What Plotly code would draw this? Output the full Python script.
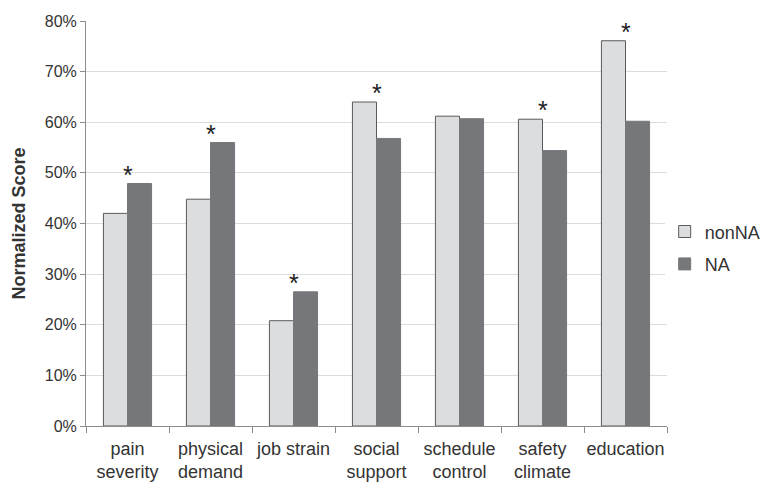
import plotly.graph_objects as go

categories = ["pain<br>severity", "physical<br>demand", "job strain", "social<br>support",
              "schedule<br>control", "safety<br>climate", "education"]
nonNA = [42.0, 44.8, 20.8, 64.0, 61.2, 60.6, 76.1]
NA = [47.9, 56.0, 26.5, 56.8, 60.7, 54.4, 60.2]
significant = [True, True, True, True, False, True, True]
yticks = [0, 10, 20, 30, 40, 50, 60, 70, 80]

font_family = "Liberation Sans, Arial, sans-serif"
txt = "#333333"

fig = go.Figure()
fig.add_trace(go.Bar(x=categories, y=nonNA, name="nonNA", legendgroup="a",
                     marker=dict(color="#dcdddf", line=dict(color="#5a5a5a", width=1))))
fig.add_trace(go.Bar(x=categories, y=NA, name="NA", legendgroup="b",
                     marker=dict(color="#76777b", line=dict(color="#76777b", width=1))))

for c, a, b, s in zip(categories, nonNA, NA, significant):
    if s:
        fig.add_annotation(x=c, y=max(a, b), text="*", showarrow=False,
                           yanchor="bottom", yshift=-7,
                           font=dict(size=25, color="#222222", family=font_family))

fig.update_layout(
    width=767, height=482,
    margin=dict(l=86, r=100, t=21, b=56, autoexpand=False),
    paper_bgcolor="white", plot_bgcolor="white",
    barmode="group", bargap=0.42, bargroupgap=0,
    font=dict(family=font_family, color=txt, size=16),
    legend=dict(x=0.996, y=0.44, xanchor="left", yanchor="middle",
                traceorder="grouped", tracegroupgap=6,
                font=dict(size=18, color=txt), itemwidth=30),
    xaxis=dict(showline=True, linecolor="#8c8c8c", linewidth=1, automargin=False,
               ticks="outside", tickson="boundaries", ticklen=6, tickcolor="#8c8c8c",
               tickangle=0, ticklabelstandoff=6, tickfont=dict(size=18, color=txt)),
    yaxis=dict(range=[0, 80], tickvals=yticks, ticktext=[f"{v}%" for v in yticks],
               showline=True, linecolor="#8c8c8c", linewidth=1, automargin=False,
               ticks="outside", ticklen=5, tickcolor="#8c8c8c",
               gridcolor="#dcdcdc", gridwidth=1,
               tickfont=dict(size=16, color=txt),
               title=dict(text="<b>Normalized Score</b>", font=dict(size=18, color=txt), standoff=14)),
)

fig.write_html("out.html", config={"displayModeBar": False},
               post_script="document.body.style.margin='0';document.body.style.overflow='hidden';")
